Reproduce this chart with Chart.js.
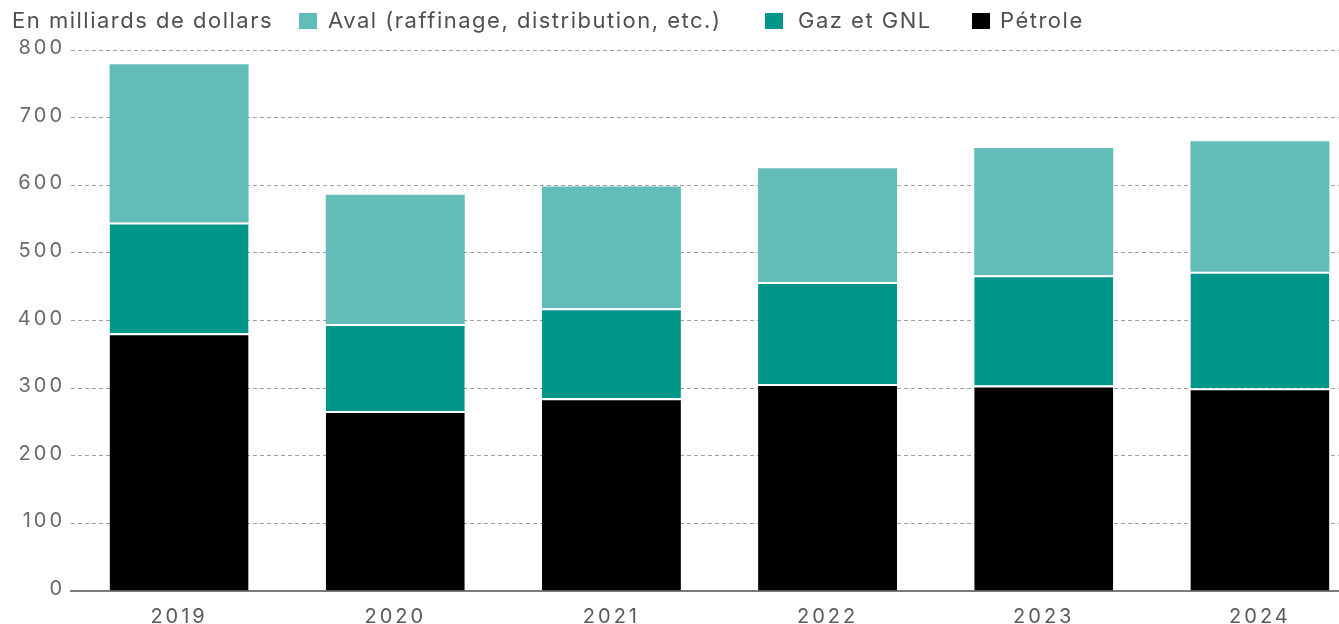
<!DOCTYPE html>
<html>
<meta charset="UTF-8">
<head>
    <title>Investissements pétrole et gaz</title>
    <script src="https://cdn.jsdelivr.net/npm/chart.js"></script>
    <style>
        body { margin: 0; background: #fff; overflow: hidden; width: 1339px; height: 624px; position: relative; }
        #legend { position: absolute; top: 0; left: 0; width: 1339px; height: 40px; font-family: Inter, sans-serif; font-size: 22px; letter-spacing: 1.5px; color: #505050; }
        #legend span { position: absolute; top: 7px; white-space: nowrap; }
        #legend i { position: absolute; top: 13px; width: 18px; height: 16px; }
        #chartContainer { position: absolute; left: 0; top: 0; width: 1368px; height: 624px; }
    </style>
</head>
<body>
<div id="chartContainer">
    <canvas id="chart" width="1368" height="624"></canvas>
</div>
<div id="legend">
    <span style="left:12px">En milliards de dollars</span>
    <i style="left:299px;background:#62bdb8"></i>
    <span style="left:328px">Aval (raffinage, distribution, etc.)</span>
    <i style="left:765px;background:#00968a"></i>
    <span style="left:798px">Gaz et GNL</span>
    <i style="left:972px;background:#000"></i>
    <span style="left:1000px">Pétrole</span>
</div>

<script>
    // Années et valeurs (milliards de dollars)
    const annees = ['2019', '2020', '2021', '2022', '2023', '2024'];
    const petrole = [381, 266, 285, 306, 304, 300];
    const gazGnl = [164, 129, 133, 151, 163, 172];
    const aval = [234, 191, 180, 168, 188, 193];
    const graduations = [0, 100, 200, 300, 400, 500, 600, 700, 800];

    // fine ligne blanche entre les segments empilés
    const separateur = { top: 2, right: 0, bottom: 0, left: 0 };

    // chiffres plus espacés sur les axes
    const espacement = {
        id: 'espacement',
        beforeDraw(chart) { chart.ctx.letterSpacing = '3px'; }
    };

    const ctx = document.getElementById('chart').getContext('2d');
    new Chart(ctx, {
        type: 'bar',
        data: {
            labels: annees,
            datasets: [
                { label: 'Pétrole', data: petrole, backgroundColor: '#000000', borderColor: '#ffffff', borderWidth: separateur },
                { label: 'Gaz et GNL', data: gazGnl, backgroundColor: '#00968a', borderColor: '#ffffff', borderWidth: separateur },
                { label: 'Aval (raffinage, distribution, etc.)', data: aval, backgroundColor: '#62bdb8', borderWidth: 0 }
            ]
        },
        plugins: [espacement],
        options: {
            responsive: false,
            animation: false,
            layout: { padding: { top: 50, left: 0, right: 0, bottom: 0 } },
            datasets: { bar: { barPercentage: 0.643, categoryPercentage: 1 } },
            plugins: { legend: { display: false }, tooltip: { enabled: false } },
            scales: {
                x: {
                    stacked: true,
                    grid: { display: false, drawTicks: false },
                    border: { display: true, color: '#7a7a7a', width: 2 },
                    ticks: { color: '#5a5a5a', padding: 14, font: { family: 'Inter', size: 20 } },
                    afterFit: (s) => { s.height = 33; }
                },
                y: {
                    stacked: true,
                    min: 0,
                    max: 800,
                    afterBuildTicks: (s) => { s.ticks = graduations.map(v => ({ value: v })); },
                    grid: {
                        drawTicks: false,
                        color: (c) => c.tick && c.tick.value === 0 ? 'rgba(0,0,0,0)' : '#a0a0a0',
                        lineWidth: 1
                    },
                    border: { display: false, dash: [4, 3] },
                    ticks: { color: '#6a6a6a', padding: 6, labelOffset: -2, font: { family: 'Inter', size: 20 } },
                    afterFit: (s) => { s.width = 71; }
                }
            }
        }
    });
</script>
</body>
</html>
